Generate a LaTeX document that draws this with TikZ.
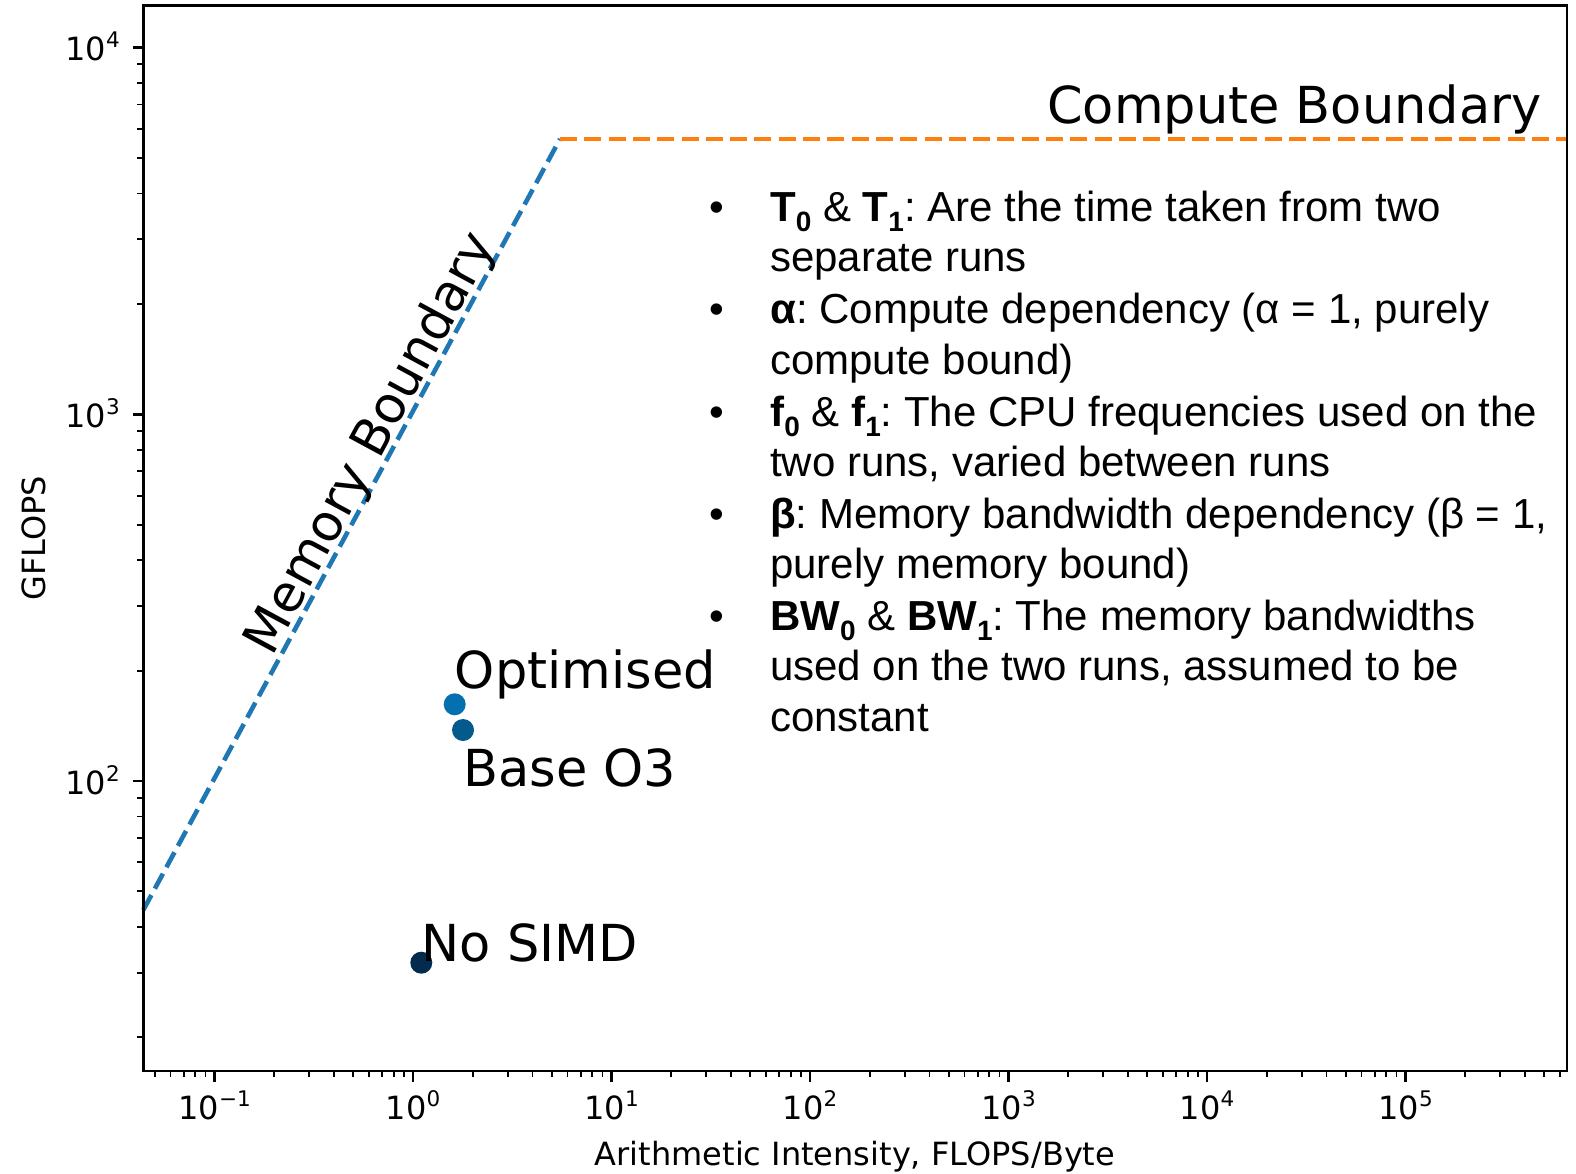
\documentclass[tikz,border=0pt]{standalone}
\usepackage{fontspec}
\setmainfont{DejaVu Sans}
\newfontfamily\robo{Liberation Sans}
\definecolor{mplblue}{HTML}{1F77B4}
\definecolor{mplorange}{HTML}{FF7F0E}
\definecolor{ptopt}{HTML}{0570B0}
\definecolor{ptbase}{HTML}{045A8D}
\definecolor{ptnosimd}{HTML}{022B4D}
\newcommand\tpow[1]{10\raisebox{12.8pt}{\fontsize{21.5}{22}\selectfont #1}}
\newcommand\sbb[1]{\raisebox{-10pt}{\fontsize{28}{28}\selectfont\bfseries #1}}
\frenchspacing
\begin{document}
\frenchspacing
\begin{tikzpicture}[x=1pt,y=-1pt,
  spine/.style={line width=2.44pt},
  majtick/.style={line width=2.44pt},
  mintick/.style={line width=1.83pt},
  ticklab/.style={inner sep=0pt, font=\fontsize{32}{38}\selectfont},
  anno/.style={inner sep=0pt, font=\fontsize{51}{60}\selectfont},
  bul/.style={inner sep=0pt, anchor=base west, font=\robo\fontsize{42}{51}\selectfont\frenchspacing},
  bulmark/.style={inner sep=0pt, anchor=base, font=\robo\fontsize{42}{51}\selectfont},
  roof/.style={line width=4.6pt, dash pattern=on 17pt off 7.3pt},
  datapt/.style={circle, inner sep=0pt, minimum size=22pt}
]
\useasboundingbox (0,0) rectangle (1576,1174);
\fill[white] (0,0) rectangle (1576,1174);

% roofline
\coordinate (memstart) at (143.3,910);
\coordinate (ridge) at (560,139);
\coordinate (compend) at (1567,139);
\draw[roof, mplblue] (memstart) -- (ridge);
\draw[roof, mplorange] (ridge) -- (compend);

% data points
\node[datapt, fill=ptopt] (opt) at (454.7,704.3) {};
\node[datapt, fill=ptbase] (base) at (463,730) {};
\node[datapt, fill=ptnosimd] (nosimd) at (421.3,962.7) {};

% axes frame
\draw[spine] (143.3,5.5) rectangle (1567,1071);

% x ticks
\foreach \e/\lab in {-1/{−1},0/0,1/1,2/2,3/3,4/4,5/5} {
  \pgfmathsetmacro\xx{413+198.5*\e}
  \draw[majtick] (\xx,1071) -- (\xx,1081.7);
  \node[ticklab, anchor=base] (xt\e) at (\xx,1119.5) {\tpow{\lab}};
}
\begin{scope}
  \clip (144.5,1060) rectangle (1566,1095);
  \foreach \e in {-2,...,5} {
    \foreach \m in {2,...,9} {
      \pgfmathsetmacro\xx{413+198.5*(\e+log10(\m))}
      \draw[mintick] (\xx,1071) -- (\xx,1077.1);
    }
  }
\end{scope}

% y ticks
\foreach \e in {2,3,4} {
  \pgfmathsetmacro\yy{781-366.7*(\e-2)}
  \draw[majtick] (143.3,\yy) -- (132.6,\yy);
  \node[ticklab, anchor=base east] (yt\e) at (120,\yy+13) {\tpow{\e}};
}
\begin{scope}
  \clip (120,6.5) rectangle (150,1070);
  \foreach \e in {1,...,4} {
    \foreach \m in {2,...,9} {
      \pgfmathsetmacro\yy{781-366.7*(\e-2+log10(\m))}
      \draw[mintick] (143.3,\yy) -- (137.2,\yy);
    }
  }
\end{scope}

% axis labels
\node[ticklab, anchor=base] (xlabel) at (855,1165) {Arithmetic Intensity, FLOPS/Byte};
\node[ticklab, anchor=base, rotate=90] (ylabel) at (45,538.3) {GFLOPS};

% annotations
\node[anno, anchor=base west] (cb) at (1047,123.3) {Compute Boundary};
\node[anno, rotate=61.6] (mb) at (372,444) {Memory Boundary};
\node[anno, anchor=base west] (optlab) at (454.7,688) {Optimised};
\node[anno, anchor=base west] (baselab) at (463,786) {Base O3};
\node[anno, anchor=base west] (nosimdlab) at (421.3,961.7) {No SIMD};

% bullet list
\foreach \yy/\nm in {221.7/b1,323.3/b2,426/b3,528.3/b4,630/b5} {
  \node[bulmark] (\nm) at (717,\yy) {•};
}
\node[bul] (l1) at (770,221.7) {\textbf{T}\sbb{0} \& \textbf{T}\sbb{1}: Are the time taken from two};
\node[bul] (l2) at (770,271.7) {separate runs};
\node[bul] (l3) at (770,323.3) {\textbf{α}: Compute dependency (α = 1, purely};
\node[bul] (l4) at (770,374) {compute bound)};
\node[bul] (l5) at (770,426) {\textbf{f}\sbb{0} \& \textbf{f}\sbb{1}: The CPU frequencies used on the};
\node[bul] (l6) at (770,476.7) {two runs, varied between runs};
\node[bul] (l7) at (770,528.3) {\textbf{β}: Memory bandwidth dependency (β = 1,};
\node[bul] (l8) at (770,578.3) {purely memory bound)};
\node[bul] (l9) at (770,630) {\textbf{BW}\sbb{0} \& \textbf{BW}\sbb{1}: The memory bandwidths};
\node[bul] (l10) at (770,680) {used on the two runs, assumed to be};
\node[bul] (l11) at (770,731.7) {constant};
\end{tikzpicture}
\end{document}
